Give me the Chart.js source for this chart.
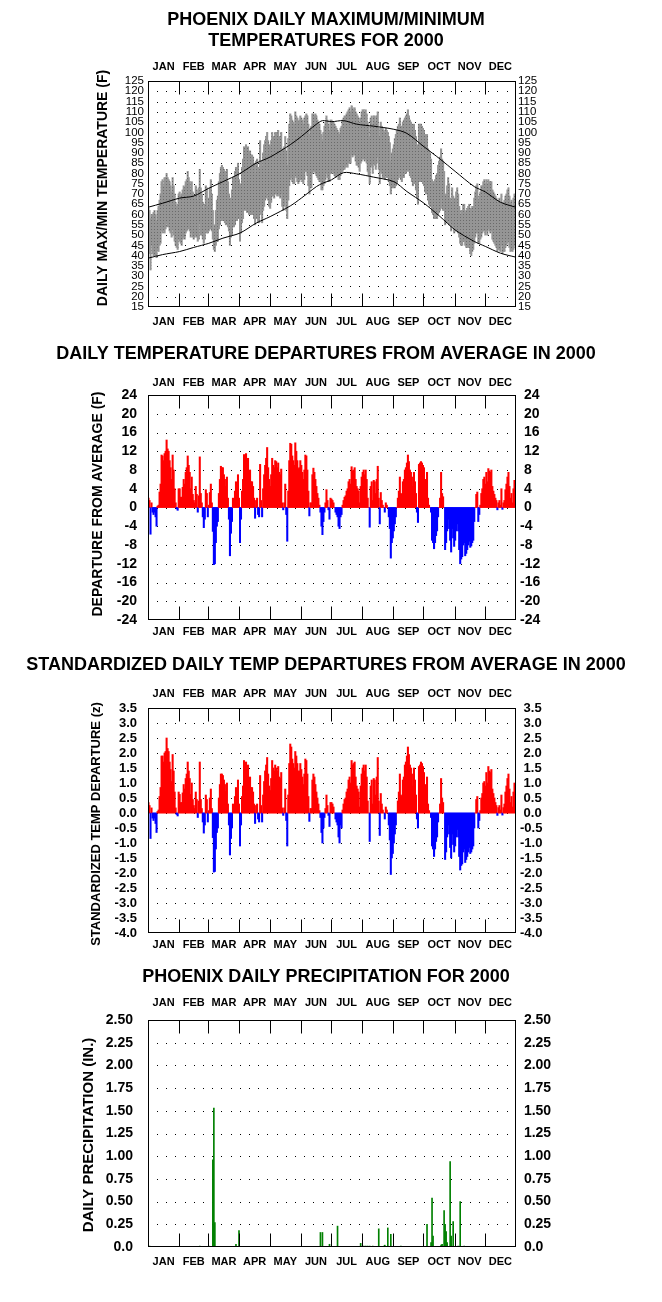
<!DOCTYPE html>
<html>
<head>
<meta charset="utf-8">
<title>Phoenix 2000</title>
<script src="https://cdn.jsdelivr.net/npm/chart.js@4.4.1/dist/chart.umd.min.js"></script>
<style>
  html, body { margin: 0; padding: 0; background: #fff; }
  body { position: relative; width: 662px; height: 1302px; overflow: hidden; }
  canvas { position: absolute; left: 0; }
</style>
</head>
<body>
<canvas id="tempChart" width="662" height="340" style="top:0px"></canvas>
<canvas id="depChart" width="662" height="310" style="top:340px"></canvas>
<canvas id="zChart" width="662" height="310" style="top:650px"></canvas>
<canvas id="precipChart" width="662" height="342" style="top:960px"></canvas>
<script>
const FONT = '"Liberation Sans", Arial, Helvetica, sans-serif';

const monthNames = ["JAN", "FEB", "MAR", "APR", "MAY", "JUN", "JUL", "AUG", "SEP", "OCT", "NOV", "DEC"];
const monthLengths = [31, 29, 31, 30, 31, 30, 31, 31, 30, 31, 30, 31];

// ================= DAILY MAX / MIN (deg F), day 1..366 =================
const dailyMax = [
  63,62,58,60,60,61,62,60,57,62,64,67,70,76,77,74,78,78,80,78,77,76,74,71,78,74,70,66,64,65,70,
  71,69,70,72,74,73,76,77,81,78,76,72,76,71,69,68,74,72,67,73,82,73,70,66,63,65,74,73,64,
  68,73,77,70,62,53,55,62,67,69,76,80,83,84,83,82,81,79,82,76,70,62,68,72,78,78,81,83,82,85,77,
  70,75,83,87,93,90,94,90,93,88,91,89,89,88,85,80,86,87,83,82,96,86,83,90,94,96,98,100,96,94,
  93,96,100,98,98,100,100,99,101,98,98,100,92,91,93,98,91,84,97,104,109,108,106,105,104,110,108,107,105,106,108,
  107,106,104,107,108,109,108,104,99,102,103,109,109,108,109,108,106,105,104,101,99,96,100,103,105,108,106,104,101,106,
  106,105,105,104,103,102,101,100,99,102,103,106,107,108,108,109,110,111,112,110,113,112,111,112,110,109,108,107,104,107,110,
  111,111,110,111,109,105,103,98,107,108,104,108,108,105,108,110,102,98,105,103,102,101,100,102,101,100,98,95,86,90,92,
  94,97,99,101,103,104,107,103,103,105,106,107,108,109,111,108,106,105,104,101,104,101,98,94,91,104,104,104,103,102,
  101,99,98,99,92,91,90,87,77,76,75,77,79,80,84,86,88,92,87,86,81,69,70,74,78,75,68,66,73,69,67,
  68,71,73,70,64,60,62,62,65,65,61,62,63,64,65,63,63,64,64,68,71,74,75,67,69,71,74,74,76,77,
  75,77,75,77,76,76,76,72,71,70,69,68,66,67,68,66,70,65,66,67,69,70,72,73,69,66,67,64,68,70,67
];
const dailyMin = [
  42,41,33,45,41,40,40,40,39,43,42,45,46,52,51,52,51,53,56,54,54,52,51,49,53,50,47,45,44,43,48,
  47,46,45,48,49,48,51,52,53,53,52,49,51,49,48,49,50,49,47,48,56,50,50,48,46,48,52,51,51,
  52,53,53,52,48,43,42,45,47,47,53,55,58,57,58,57,56,55,57,54,52,45,49,50,54,54,55,58,57,59,58,
  47,51,56,58,63,62,64,61,64,60,62,60,60,60,58,55,58,58,56,56,65,60,56,62,64,67,68,71,67,64,
  63,66,69,69,68,70,70,69,70,69,68,70,64,62,64,68,62,58,67,74,77,78,76,75,75,79,78,76,75,76,77,
  77,76,75,77,81,81,79,74,70,73,73,80,81,81,80,79,78,77,76,76,72,72,74,75,77,80,78,76,76,80,
  80,81,80,79,78,79,79,77,77,79,80,81,82,82,83,84,83,85,85,85,89,88,89,89,86,84,84,83,81,85,86,
  87,87,86,87,85,81,79,75,83,84,80,85,84,82,85,88,82,75,81,80,78,78,77,79,78,78,76,74,70,73,73,
  73,73,74,75,77,78,80,77,76,78,78,81,80,81,82,81,79,78,76,74,77,75,72,68,65,76,76,76,76,75,
  74,71,70,72,67,65,64,64,61,60,58,58,58,58,60,61,62,68,63,62,62,55,56,56,57,55,56,52,55,54,51,
  52,52,52,51,49,46,45,45,47,47,45,44,44,44,44,41,40,42,43,46,49,51,51,46,46,48,49,51,52,52,
  50,52,50,53,52,51,52,48,47,46,45,44,42,43,43,42,45,41,42,42,44,45,46,47,44,42,43,42,43,45,44
];

// normal max / min curves, read at these days
const normDays = [1, 15, 32, 46, 61, 75, 92, 108, 122, 142, 153, 168, 174, 183, 195, 208, 225, 245, 258, 275, 291, 306, 325, 336, 351, 366];
const normMax = [63.6, 65.5, 68, 69, 72.8, 76, 80, 85, 88, 94, 98, 104, 105.7, 105.2, 105.7, 104, 103, 101.5, 99.5, 93, 87, 81, 73.6, 71, 66, 63.6];
const normMin = [38.8, 40.5, 42, 44, 46, 48.5, 51, 55.8, 59, 64.2, 68, 73.6, 75.2, 76.9, 80.4, 79.8, 78.2, 76, 71.2, 65.5, 59, 52.5, 46.9, 44.5, 41.2, 39.3];

// ================= DEPARTURES (deg F) =================
const departure = [
  2,1.5,-5.7,1,-1,-1.5,-1,-2,-4,0.3,0.5,3.3,5,11.2,11,10,11.5,12,14.4,12.5,12,10,8.5,6,11.2,8,4,1,-0.3,-0.6,4,
  4,2.2,2.2,4.3,6,5,7.5,8.5,11,9,7.5,4,6.5,2.8,1.5,1,4.5,2.8,-1,2.5,10.8,3,1,-2,-4.3,-2.5,3.8,3,-2,
  0.5,3.2,5,1,-5.1,-12.2,-12,-7.5,-4,-3,3,6,8.8,8.5,8.5,7,6,4.5,6.5,2,-2.5,-10.3,-5.5,-3,2,1.5,3.5,5.5,4.5,7,2,
  -7.5,-2.5,3.5,6,11.3,9,11.5,8,10.5,6,8,5.5,5.5,4.5,2,-2.3,1.5,2,-1.5,-2,9.2,1.5,-2,4,7,9,10.5,12.8,8.5,6,
  4.5,7,10.5,9,8.5,10,9.8,8.5,9.5,7.5,7,8.2,1,-0.5,1,5,-1.5,-7.2,3.5,10,13.7,13.5,11,10,9,13.8,12,10,8.3,8.5,10,
  9,7.5,6,8,11.2,11,8,3.5,-1.8,1,1,7,8.4,7.5,6,4.5,3,2,0.5,-1,-4,-5.8,-3,-1,1,3.8,1.5,-0.5,-2.5,2,
  1.8,1.5,1,0,-1,-1.5,-2,-4,-4.5,-2,-1.5,0.5,1.5,2.2,2.5,3.5,4,5.5,6,5,8.7,7.8,8,8.5,6,4.5,4,3.5,1,4.5,6.5,
  7.5,8,7,8,6,2,0,-4.2,4.5,5.5,1.5,5.8,5.5,3,6,8.8,2,-3.5,3.2,1.5,0.5,0,-1,1,0.5,0,-2,-4.5,-10.8,-7.5,-6.5,
  -5,-3.5,-2,0,2,3.5,6.5,3,2.8,5.5,6,8,8.5,9.5,11.2,9.8,8,7.5,6.5,4.5,7.5,5.5,3,-1,-3.2,9.2,9.5,9.8,9.5,9,
  8.5,6,5.5,7.5,2,0.5,0,-1,-7,-7.5,-8.8,-7.5,-6,-5,-2,0,2,7.5,3,2.3,0,-9,-7.5,-5,-2.5,-4.5,-7,-9.5,-4.5,-6.5,-8.3,
  -7,-5,-3.5,-5,-9,-12,-11,-10.5,-8,-7.5,-10.3,-9.8,-9,-8,-7.2,-8.5,-8.2,-7.5,-7,-3,0,2.8,3.3,-3,-1.5,0.5,3,4,6,6.5,
  5,7.5,5.5,8.3,7.8,7.5,8,4.5,3.5,2.8,2,1.5,-0.5,1,1.5,0.5,4,-0.4,1,1.5,3.8,5,6.5,7.5,4.5,2,3,1,4,5.8,4
];

// ================= STANDARDIZED DEPARTURES (z) =================
const zDeparture = [
  0.35,0.25,-0.85,0.17,-0.17,-0.25,-0.17,-0.35,-0.65,0.05,0.1,0.55,0.85,1.9,1.9,1.7,2.0,2.05,2.5,2.15,2.05,1.7,1.45,1.05,1.95,1.4,0.7,0.17,-0.05,-0.1,0.7,
  0.62,0.35,0.35,0.67,0.95,0.8,1.15,1.3,1.7,1.4,1.15,0.62,1.0,0.45,0.25,0.15,0.7,0.45,-0.15,0.4,1.7,0.45,0.15,-0.3,-0.67,-0.4,0.6,0.45,-0.3,
  0.08,0.5,0.8,0.15,-0.82,-1.97,-1.95,-1.2,-0.65,-0.5,0.5,0.95,1.3,1.3,1.25,1.1,0.95,0.72,1.0,0.3,-0.4,-1.4,-0.85,-0.5,0.3,0.25,0.55,0.85,0.7,1.1,0.3,
  -1.1,-0.4,0.55,0.9,1.75,1.4,1.7,1.25,1.6,0.9,1.2,0.85,0.85,0.7,0.3,-0.35,0.25,0.3,-0.2,-0.3,1.25,0.25,-0.3,0.6,1.05,1.4,1.6,1.85,1.3,0.9,
  0.75,1.15,1.75,1.5,1.4,1.6,1.5,1.4,1.55,1.2,1.15,1.35,0.17,-0.08,0.17,0.8,-0.25,-1.1,0.6,1.65,2.3,2.2,1.8,1.65,1.5,2.05,1.9,1.65,1.4,1.4,1.65,
  1.45,1.2,0.95,1.3,1.8,1.75,1.3,0.55,-0.28,0.15,0.15,1.1,1.3,1.2,0.95,0.7,0.5,0.3,0.08,-0.15,-0.65,-1.0,-0.5,-0.15,0.15,0.6,0.25,-0.08,-0.45,0.35,
  0.35,0.3,0.2,0,-0.2,-0.3,-0.4,-0.8,-1.0,-0.4,-0.5,0.1,0.3,0.45,0.5,0.7,0.8,1.1,1.2,1.0,1.75,1.6,1.65,1.7,1.2,0.9,0.8,0.7,0.2,0.9,1.3,
  1.5,1.6,1.4,1.6,1.2,0.4,0,-0.95,0.9,1.1,0.3,1.15,1.1,0.6,1.2,1.85,0.4,-0.75,0.65,0.3,0.1,0,-0.2,0.2,0.1,0,-0.4,-0.9,-2.05,-1.5,-1.35,
  -1.0,-0.7,-0.4,0,0.4,0.7,1.3,0.6,0.55,1.1,1.2,1.6,1.7,1.9,2.2,1.95,1.6,1.5,1.3,0.9,1.5,1.1,0.6,-0.2,-0.5,1.55,1.6,1.7,1.65,1.55,
  1.35,0.95,0.9,1.2,0.3,0.08,0,-0.15,-1.1,-1.2,-1.45,-1.2,-0.95,-0.8,-0.3,0,0.3,1.15,0.5,0.35,0,-1.55,-1.3,-0.8,-0.4,-0.7,-1.15,-1.5,-0.7,-1.05,-1.3,
  -1.1,-0.8,-0.55,-0.8,-1.45,-1.9,-1.75,-1.7,-1.3,-1.2,-1.65,-1.55,-1.45,-1.3,-1.15,-1.35,-1.3,-1.2,-1.1,-0.5,0,0.45,0.55,-0.5,-0.25,0.08,0.5,0.65,1.0,1.05,
  0.9,1.35,1.0,1.55,1.4,1.35,1.45,0.8,0.65,0.5,0.35,0.25,-0.08,0.18,0.25,0.1,0.6,-0.07,0.18,0.3,0.7,0.9,1.15,1.3,0.8,0.35,0.55,0.2,0.7,1.0,0.7
];

// ================= PRECIPITATION (in.) =================
const precipDays = [2, 52, 61, 65, 66, 67, 88, 91, 172, 174, 181, 189, 212, 215, 217, 219, 221, 224, 230, 235, 236, 239, 242, 252, 278, 282, 283, 284, 292, 293, 295, 296, 297, 298, 301, 302, 304, 309, 311, 315];
const precipInches = [0.01, 0.01, 0.01, 0.96, 1.53, 0.27, 0.03, 0.18, 0.16, 0.16, 0.03, 0.23, 0.04, 0.01, 0.01, 0.01, 0.01, 0.01, 0.2, 0.01, 0.02, 0.21, 0.14, 0.01, 0.25, 0.05, 0.54, 0.12, 0.02, 0.03, 0.4, 0.25, 0.17, 0.05, 0.94, 0.12, 0.28, 0.01, 0.5, 0.01];

// ================= SHARED DECORATION =================
const panelDecor = {
  id: "panelDecor",
  beforeDatasetsDraw(chart, args, o) {
    const { ctx, chartArea: a } = chart;
    const ys = chart.scales.y;
    ctx.save();
    ctx.fillStyle = "#000";
    ys.ticks.forEach(t => {
      if (t.value <= ys.min + 1e-9 || t.value >= ys.max - 1e-9) return;
      const py = Math.round(ys.getPixelForValue(t.value));
      for (let x = a.left + 9; x < a.right - 4; x += 9.2) ctx.fillRect(Math.round(x), py, 1, 1);
    });
    ctx.restore();
  },
  afterDatasetsDraw(chart, args, o) {
    const { ctx, chartArea: a } = chart;
    const xs = chart.scales.x;
    ctx.save();
    ctx.strokeStyle = "#000";
    ctx.lineWidth = 1;
    ctx.strokeRect(a.left + 0.5, a.top + 0.5, a.right - a.left - 1, a.bottom - a.top - 1);

    ctx.fillStyle = "#000";
    ctx.font = "bold 11px " + FONT;
    ctx.textAlign = "center";
    ctx.textBaseline = "middle";
    let start = 0.5;
    monthLengths.forEach((len, i) => {
      const mid = xs.getPixelForValue(start + len / 2);
      ctx.fillText(monthNames[i], mid, o.monthTop);
      ctx.fillText(monthNames[i], mid, o.monthBottom);
      start += len;
      if (i < 11) {
        const px = Math.round(xs.getPixelForValue(start)) + 0.5;
        ctx.beginPath();
        ctx.moveTo(px, a.top);
        ctx.lineTo(px, a.top + 13.5);
        ctx.moveTo(px, a.bottom);
        ctx.lineTo(px, a.bottom - 13.5);
        ctx.stroke();
      }
    });

    ctx.font = "bold 18px " + FONT;
    o.title.forEach((line, i) => ctx.fillText(line, 326, o.titleY[i]));

    ctx.font = "bold " + o.yTitleSize + "px " + FONT;
    ctx.translate(o.yTitleX, o.yTitleY);
    ctx.rotate(-Math.PI / 2);
    ctx.fillText(o.yTitle, 0, 0);
    ctx.restore();
  }
};

// stippled gray like the band in the reference
function bandPattern() {
  const c = document.createElement("canvas");
  c.width = 3; c.height = 3;
  const g = c.getContext("2d");
  g.fillStyle = "#959595";
  g.fillRect(0, 0, 3, 3);
  g.fillStyle = "#6a6a6a";
  g.fillRect(1, 1, 1, 1);
  return g.createPattern(c, "repeat");
}

function dayAxis() {
  return { type: "linear", min: 0.5, max: 366.5, offset: false, display: false, grid: { offset: false } };
}

function valueAxis(pos, min, max, step, font, pad, width, fmt) {
  return {
    type: "linear",
    position: pos,
    min: min,
    max: max,
    ticks: { stepSize: step, autoSkip: false, padding: pad, color: "#000", font: font, callback: fmt },
    grid: { display: false, drawTicks: false },
    border: { display: false },
    afterFit(s) { s.width = width; }
  };
}

function baseOptions(padTop, padBottom, decor, scales) {
  return {
    responsive: false,
    animation: false,
    layout: { padding: { top: padTop, bottom: padBottom, left: 0, right: 0 } },
    plugins: { legend: { display: false }, tooltip: { enabled: false }, panelDecor: decor },
    scales: scales
  };
}

const boldTick = size => ({ family: FONT, size: size, weight: "bold" });
const rightFmt = f => v => (v < 0 ? "" : " ") + f(v);

// ================= PANEL 1: MAX / MIN =================
function loadTempChart() {
  const small = { family: FONT, size: 11.5 };
  new Chart(document.getElementById("tempChart"), {
    type: "bar",
    data: {
      datasets: [
        {
          type: "line",
          data: normDays.map((d, i) => ({ x: d, y: normMax[i] })),
          borderColor: "#000", borderWidth: 1, pointRadius: 0, tension: 0.3, order: 0
        },
        {
          type: "line",
          data: normDays.map((d, i) => ({ x: d, y: normMin[i] })),
          borderColor: "#000", borderWidth: 1, pointRadius: 0, tension: 0.3, order: 0
        },
        {
          data: dailyMax.map((v, i) => ({ x: i + 1, y: [dailyMin[i], v] })),
          backgroundColor: bandPattern(), borderWidth: 0, barThickness: 1.4, order: 1
        }
      ]
    },
    options: baseOptions(81, 33, {
      title: ["PHOENIX DAILY MAXIMUM/MINIMUM", "TEMPERATURES FOR 2000"], titleY: [20, 41],
      monthTop: 67, monthBottom: 322,
      yTitle: "DAILY MAX/MIN TEMPERATURE (F)", yTitleSize: 14, yTitleX: 103, yTitleY: 188
    }, {
      x: dayAxis(),
      y: valueAxis("left", 15, 125, 5, small, 4, 148, v => v),
      y2: valueAxis("right", 15, 125, 5, small, 2, 146, v => v)
    }),
    plugins: [panelDecor]
  });
}

// ================= PANEL 2: DEPARTURES =================
function loadDepartureChart() {
  const fmt = v => String(v);
  new Chart(document.getElementById("depChart"), {
    type: "bar",
    data: {
      datasets: [{
        data: departure.map((v, i) => ({ x: i + 1, y: v })),
        backgroundColor: departure.map(v => (v >= 0 ? "#ff0000" : "#0000ff")),
        borderWidth: 0, barThickness: 1.4
      }]
    },
    options: baseOptions(55, 30, {
      title: ["DAILY TEMPERATURE DEPARTURES FROM AVERAGE IN 2000"], titleY: [14],
      monthTop: 43, monthBottom: 292,
      yTitle: "DEPARTURE FROM AVERAGE (F)", yTitleSize: 14, yTitleX: 98, yTitleY: 164
    }, {
      x: dayAxis(),
      y: valueAxis("left", -24, 24, 4, boldTick(14), 11, 148, fmt),
      y2: valueAxis("right", -24, 24, 4, boldTick(14), 4, 146, rightFmt(fmt))
    }),
    plugins: [panelDecor]
  });
}

// ================= PANEL 3: STANDARDIZED =================
function loadZChart() {
  const fmt = v => v.toFixed(1);
  new Chart(document.getElementById("zChart"), {
    type: "bar",
    data: {
      datasets: [{
        data: zDeparture.map((v, i) => ({ x: i + 1, y: v })),
        backgroundColor: zDeparture.map(v => (v >= 0 ? "#ff0000" : "#0000ff")),
        borderWidth: 0, barThickness: 1.4
      }]
    },
    options: baseOptions(58, 27, {
      title: ["STANDARDIZED DAILY TEMP DEPARTURES FROM AVERAGE IN 2000"], titleY: [15],
      monthTop: 44, monthBottom: 295,
      yTitle: "STANDARDIZED TEMP DEPARTURE (z)", yTitleSize: 13, yTitleX: 96, yTitleY: 174
    }, {
      x: dayAxis(),
      y: valueAxis("left", -4, 3.5, 0.5, boldTick(13), 11, 148, fmt),
      y2: valueAxis("right", -4, 3.5, 0.5, boldTick(13), 4, 146, rightFmt(fmt))
    }),
    plugins: [panelDecor]
  });
}

// ================= PANEL 4: PRECIPITATION =================
function loadPrecipChart() {
  const fmt = v => (v === 0 ? "0.0" : v.toFixed(2));
  new Chart(document.getElementById("precipChart"), {
    type: "bar",
    data: {
      datasets: [{
        data: precipDays.map((d, i) => ({ x: d, y: precipInches[i] })),
        backgroundColor: "#008000", borderWidth: 0, barThickness: 1
      }]
    },
    options: baseOptions(60, 55, {
      title: ["PHOENIX DAILY PRECIPITATION FOR 2000"], titleY: [17],
      monthTop: 43, monthBottom: 302,
      yTitle: "DAILY PRECIPITATION (IN.)", yTitleSize: 15, yTitleX: 89, yTitleY: 175
    }, {
      x: dayAxis(),
      y: valueAxis("left", 0, 2.5, 0.25, boldTick(14), 15, 148, fmt),
      y2: valueAxis("right", 0, 2.5, 0.25, boldTick(14), 4, 146, rightFmt(fmt))
    }),
    plugins: [panelDecor]
  });
}

window.onload = () => {
  loadTempChart();
  loadDepartureChart();
  loadZChart();
  loadPrecipChart();
};
</script>
</body>
</html>
